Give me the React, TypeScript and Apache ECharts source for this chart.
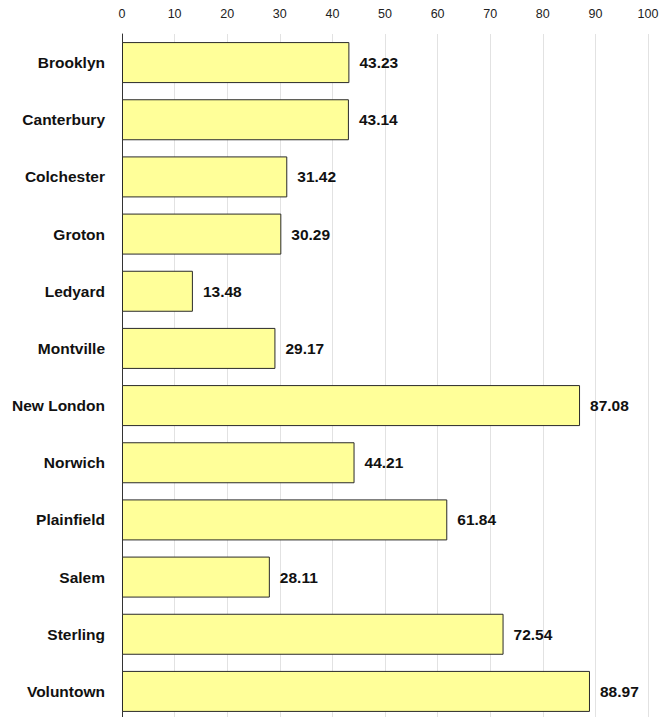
import React, { useEffect, useRef } from "react";
import * as echarts from "echarts";

const categories = [
  "Brooklyn",
  "Canterbury",
  "Colchester",
  "Groton",
  "Ledyard",
  "Montville",
  "New London",
  "Norwich",
  "Plainfield",
  "Salem",
  "Sterling",
  "Voluntown",
];
const values = [43.23, 43.14, 31.42, 30.29, 13.48, 29.17, 87.08, 44.21, 61.84, 28.11, 72.54, 88.97];
const xMin = 0;
const xMax = 100;
const xInterval = 10;

const FONT = "'Liberation Sans', Arial, sans-serif";

export default function App() {
  const ref = useRef<HTMLDivElement>(null);
  useEffect(() => {
    if (!ref.current) return;
    const chart = echarts.init(ref.current, null, { renderer: "svg" });
    chart.setOption({
      animation: false,
      backgroundColor: "#ffffff",
      grid: {
        left: 122,
        width: 526,
        top: 34,
        height: 686,
        containLabel: false,
        outerBoundsMode: "none",
      },
      xAxis: {
        type: "value",
        position: "top",
        min: xMin,
        max: xMax,
        interval: xInterval,
        axisLine: { show: false },
        axisTick: { show: false },
        axisLabel: { color: "#222", fontFamily: FONT, fontSize: 12.5, margin: 14 },
        splitLine: { show: true, lineStyle: { color: "#e2e2e2", width: 1 } },
      },
      yAxis: {
        type: "category",
        data: categories,
        inverse: true,
        axisLine: { show: true, lineStyle: { color: "#333", width: 1 } },
        axisTick: { show: false },
        axisLabel: {
          color: "#111",
          fontFamily: FONT,
          fontWeight: "bold",
          fontSize: 15.5,
          margin: 17,
        },
      },
      series: [
        {
          type: "bar",
          data: values,
          barWidth: 41,
          itemStyle: { color: "#ffff99", borderColor: "#2a2a2a", borderWidth: 1 },
          label: {
            show: true,
            position: "right",
            distance: 10,
            color: "#111",
            fontFamily: FONT,
            fontWeight: "bold",
            fontSize: 15.5,
            formatter: (p: any) => p.value.toFixed(2),
          },
        },
      ],
    });
    return () => chart.dispose();
  }, []);
  return (
    <div
      ref={ref}
      style={{ position: "fixed", left: 0, top: 0, width: 663, height: 717 }}
    />
  );
}
